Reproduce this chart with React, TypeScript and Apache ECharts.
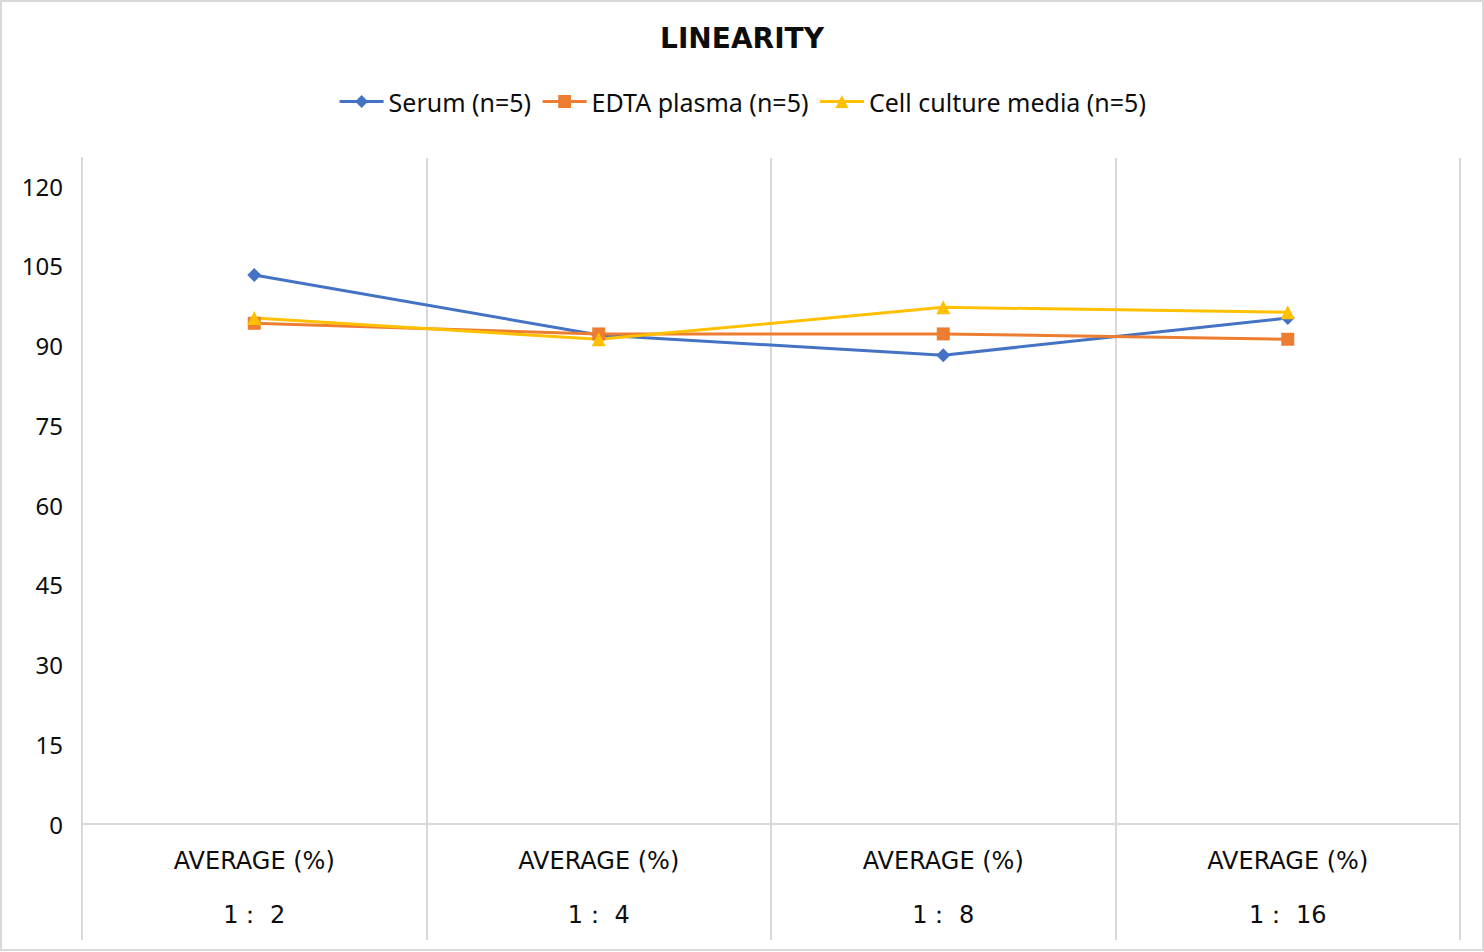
import React, { useEffect, useRef } from "react";
import * as echarts from "echarts";

const categories = ["1： 2", "1： 4", "1： 8", "1： 16"];
const groupLabel = "AVERAGE (%)";
const serum = [103.3, 92.0, 88.2, 95.2];
const edta = [94.2, 92.2, 92.2, 91.2];
const cellCulture = [95.2, 91.2, 97.2, 96.3];
const seriesNames = ["Serum (n=5)", "EDTA plasma (n=5)", "Cell culture media (n=5)"];
const yTicks = { min: 0, max: 125.3, interval: 15 };

const FONT = "'Noto Sans', 'Open Sans', sans-serif";
const WIDE = "'DejaVu Sans', 'Noto Sans', sans-serif";

export default function App() {
  const ref = useRef<HTMLDivElement>(null);
  useEffect(() => {
    if (!ref.current) return;
    const chart = echarts.init(ref.current, null, { renderer: "svg" });
    const mk = (name: string, data: number[], color: string, symbol: string, size: number) => ({
      name,
      type: "line",
      data,
      symbol,
      symbolSize: size,
      showAllSymbol: true,
      lineStyle: { color, width: 3 },
      itemStyle: { color },
      emphasis: { disabled: true },
    });
    chart.setOption({
      animation: false,
      backgroundColor: "#ffffff",
      textStyle: { fontFamily: FONT },
      title: {
        text: "LINEARITY",
        left: "center",
        top: 19,
        textStyle: { fontFamily: WIDE, fontSize: 28, fontWeight: "bold", color: "#0d0d0d" },
      },
      legend: {
        top: 84,
        left: "center",
        itemWidth: 44,
        itemHeight: 16,
        itemGap: 10,
        lineStyle: { width: 3 },
        textStyle: { fontFamily: FONT, fontSize: 25, color: "#0d0d0d" },
        data: seriesNames,
      },
      grid: { left: 82, right: 24, top: 158, bottom: 128, containLabel: false },
      xAxis: {
        type: "category",
        data: categories,
        boundaryGap: true,
        axisLine: { show: true, lineStyle: { color: "#d9d9d9", width: 2 } },
        axisTick: { show: true, length: 116, lineStyle: { color: "#d9d9d9", width: 2 } },
        splitLine: { show: true, lineStyle: { color: "#d9d9d9", width: 2 } },
        axisLabel: {
          margin: 10,
          interval: 0,
          formatter: (v: string) => `{a|${groupLabel}}\n{b|${v}}`,
          rich: {
            a: { fontFamily: WIDE, fontSize: 24, color: "#0d0d0d", lineHeight: 54 },
            b: { fontFamily: WIDE, fontSize: 24, color: "#0d0d0d", lineHeight: 54 },
          },
        },
      },
      yAxis: {
        type: "value",
        min: yTicks.min,
        max: yTicks.max,
        interval: yTicks.interval,
        axisLine: { show: true, lineStyle: { color: "#d9d9d9", width: 2 } },
        axisTick: { show: false },
        splitLine: { show: false },
        axisLabel: {
          margin: 19,
          showMaxLabel: false,
          fontFamily: FONT,
          fontSize: 24,
          color: "#0d0d0d",
          formatter: (v: number) => (v > 120 ? "" : String(v)),
        },
      },
      graphic: [
        {
          type: "rect",
          shape: { x: 1, y: 1, width: 1482, height: 949 },
          style: { fill: "none", stroke: "#d9d9d9", lineWidth: 2 },
          silent: true,
        },
      ],
      series: [
        mk(seriesNames[0], serum, "#4472C4", "diamond", 14),
        mk(seriesNames[1], edta, "#ED7D31", "rect", 13),
        mk(seriesNames[2], cellCulture, "#FFC000", "triangle", 14),
      ],
    });
    return () => chart.dispose();
  }, []);
  return (
    <div
      ref={ref}
      style={{ position: "fixed", left: 0, top: 0, width: 1484, height: 952 }}
    />
  );
}
